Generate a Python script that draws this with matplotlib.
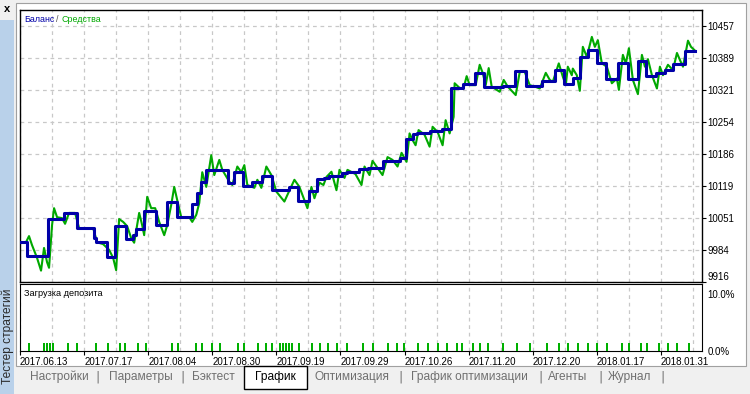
import matplotlib
matplotlib.use('Agg')
import matplotlib.pyplot as plt
from matplotlib.patches import Rectangle
import numpy as np

# window size in pixels
W, H = 750, 394

# x axis = deal number, y axis = account balance
dates = ['2017.06.13', '2017.07.17', '2017.08.04', '2017.08.30', '2017.09.19', '2017.09.29',
         '2017.10.26', '2017.11.20', '2017.12.20', '2018.01.17', '2018.01.31']
balance_ticks = ['9916', '9984', '10051', '10119', '10186', '10254', '10321', '10389', '10457']

balance_deal = [0, 3.5, 14, 22, 28.5, 37, 38, 43.5, 47.5, 53, 56.5, 58, 62, 68, 73.5, 78.5, 86,
                88.5, 90.5, 93, 104, 107, 111.5, 116, 121, 126, 134.5, 139, 144.5, 148.5, 152,
                154.5, 161, 163.5, 169.5, 173.5, 181, 189.5, 192.5, 196, 198, 204.5, 210.5, 215,
                221, 227, 231.5, 241, 247, 252.5, 260.5, 267, 271.5, 276, 279.5, 283.5, 288,
                292.5, 298.5, 303.5, 308.5, 312.5, 317.5, 322, 326, 332, 337]
balance = [10000, 9971, 10049, 10062, 10030, 10009, 10000, 9969, 10034, 10007, 10015, 10029,
           10067, 10037, 10086, 10053, 10081, 10104, 10128, 10153, 10125, 10149, 10119, 10128,
           10140, 10110, 10117, 10087, 10109, 10134, 10136, 10140, 10147, 10149, 10154, 10156,
           10172, 10177, 10219, 10228, 10230, 10235, 10239, 10325, 10334, 10357, 10329, 10330,
           10362, 10330, 10341, 10364, 10335, 10347, 10392, 10406, 10378, 10345, 10378, 10345,
           10383, 10351, 10358, 10364, 10376, 10404, 10404]

equity_deal = [0, 3, 4.5, 6, 8.5, 10.5, 12, 13.5, 14.5, 16, 17, 18.5, 21, 22.5, 24.5, 27.5, 29.5,
               36.5, 38.5, 41.5, 44.5, 46.5, 48, 49.5, 51.5, 53.5, 55.5, 57, 59.5, 61, 62, 63.5,
               65.5, 67.5, 69.5, 72, 73.5, 75.5, 77, 78.5, 80.5, 84.5, 86, 88, 89.5, 91, 93,
               95.5, 97, 99.5, 101, 104.5, 106, 108.5, 110.5, 112, 113.5, 117, 118.5, 120.5, 123,
               125.5, 128, 132, 133.5, 137, 139.5, 142, 143.5, 145.5, 147, 149.5, 151.5, 153,
               155.5, 158, 159.5, 162, 163.5, 167.5, 170.5, 172, 174.5, 176, 178.5, 181, 183.5,
               186, 188.5, 190.5, 193, 194.5, 196, 197.5, 199, 202, 204.5, 206, 208.5, 211,
               212.5, 214.5, 216.5, 217, 219.5, 221.5, 223, 224.5, 227.5, 229.5, 231, 232.5, 234,
               235.5, 239.5, 241.5, 243.5, 247.5, 249.5, 252, 254.5, 257, 259.5, 262.5, 264.5,
               266, 269, 271, 272.5, 273.5, 275.5, 276, 278, 279.5, 281, 283, 285.5, 287, 288.5,
               290.5, 293, 295.5, 298, 299, 301, 302.5, 304, 306, 308.5, 310.5, 312, 313.5,
               315.5, 318, 319.5, 321, 323.5, 326, 328, 329.5, 331, 333.5, 335, 337]
equity = [10000, 10000, 10013, 9994, 9967, 9940, 9988, 9958, 9946, 10036, 10072, 10053, 10051,
          10039, 10062, 10062, 10030, 10030, 10000, 9996, 9984, 9967, 9941, 10049, 10043, 10034,
          10009, 9999, 10062, 10036, 10015, 10096, 10072, 10072, 10043, 10015, 10036, 10079,
          10117, 10089, 10053, 10053, 10043, 10058, 10083, 10148, 10117, 10184, 10142, 10174,
          10153, 10128, 10121, 10160, 10148, 10163, 10121, 10115, 10132, 10115, 10160, 10142,
          10107, 10086, 10100, 10132, 10117, 10089, 10072, 10117, 10093, 10126, 10121, 10138,
          10149, 10110, 10153, 10136, 10153, 10144, 10121, 10160, 10142, 10172, 10157, 10142,
          10180, 10174, 10160, 10189, 10170, 10230, 10216, 10205, 10237, 10227, 10202, 10244,
          10233, 10205, 10258, 10230, 10265, 10336, 10326, 10326, 10351, 10332, 10332, 10375,
          10358, 10332, 10368, 10329, 10318, 10343, 10329, 10311, 10360, 10360, 10332, 10329,
          10325, 10358, 10343, 10339, 10378, 10350, 10332, 10371, 10353, 10367, 10353, 10320,
          10413, 10392, 10434, 10413, 10427, 10378, 10371, 10336, 10346, 10322, 10396, 10378,
          10410, 10343, 10313, 10396, 10371, 10387, 10353, 10325, 10371, 10353, 10375, 10364,
          10400, 10385, 10371, 10426, 10413, 10405]

# deals with deposit load (percent of deposit)
load_deal = [4.5, 12, 13.5, 15, 16.5, 24, 28.5, 38, 44, 50, 52.5, 59, 63, 76, 79, 88, 91, 96, 100,
             109, 112, 119, 123, 126, 130, 131.5, 133, 134.5, 136, 139.5, 146, 150, 154, 158.5,
             163.5, 171, 176, 183.5, 188, 191.5, 198.5, 203.5, 208.5, 213, 218, 220.5, 226,
             229.5, 233.5, 241, 248, 254.5, 263, 269, 273.5, 278.5, 283.5, 288, 293, 300.5, 304,
             310, 313, 319, 323.5, 328, 334]
deposit_load = 1.3

BLUE = '#0000a8'
GREEN = '#00a800'
GRID = '#c8c8c8'
FONT = 'Liberation Sans'
FS = 7.0


def box(l, t, r, b):
    return [l / W, 1 - b / H, (r - l) / W, (b - t) / H]


def fx(px):
    return px / W


def fy(py):
    return 1 - py / H


fig = plt.figure(figsize=(W / 100, H / 100), dpi=100, facecolor='#f0f0f0')

# window frame (behind the axes)
fig.patches.append(Rectangle((fx(16), fy(366)), fx(730), 363 / H, transform=fig.transFigure,
                             facecolor='white', edgecolor='#a0a0a0', lw=0.8, zorder=-5))
fig.patches.append(Rectangle((0, 0), fx(14), 1, transform=fig.transFigure,
                             facecolor='#b9d1ea', edgecolor='none', zorder=-5))
fig.patches.append(Rectangle((0, fy(20)), fx(14), 20 / H, transform=fig.transFigure,
                             facecolor='#f0f0f0', edgecolor='none', zorder=-5))
fig.text(fx(7), fy(9), 'x', fontsize=8, fontweight='bold', ha='center', va='center',
         family=FONT)
fig.text(fx(7.5), fy(336), 'Тестер стратегий', rotation=90, fontsize=8.6, ha='center',
         va='center', color='#2a2a2a', family=FONT)

# balance / equity chart
ax = fig.add_axes(box(20, 10, 702, 282))
ax.set_facecolor('white')
xmax = 340.5
ax.set_xlim(0, xmax)
ax.set_ylim(9916, 10457 + 16 * 541 / 256)
ax.step(balance_deal, balance, where='post', color=BLUE, lw=2.2, zorder=3)
ax.plot(equity_deal, equity, color=GREEN, lw=1.5, zorder=2)
ax.set_yticks(np.linspace(9916, 10457, 9))
ax.set_yticklabels(balance_ticks)
ax.set_xticks(np.arange(0, xmax, 16))
ax.set_xticklabels([])
ax.yaxis.tick_right()
ax.tick_params(axis='y', length=3, width=0.8, labelsize=FS, pad=1)
ax.tick_params(axis='x', length=0)
for lab in ax.get_yticklabels():
    lab.set_family(FONT)
# the lowest label sits on the panel edge, as in the tester window
ax.get_yticklabels()[0].set_va('bottom')
ax.grid(True, color=GRID, ls=(0, (3, 3)), lw=0.9)
for s in ax.spines.values():
    s.set_linewidth(1)
fig.text(fx(24), fy(19), 'Баланс', color=BLUE, fontsize=6.4, family=FONT, va='center')
fig.text(fx(56), fy(19), '/', color='#505050', fontsize=6.4, family=FONT, va='center')
fig.text(fx(62), fy(19), 'Средства', color=GREEN, fontsize=6.4, family=FONT, va='center')

# deposit load chart
ax2 = fig.add_axes(box(20, 284, 702, 351))
ax2.set_facecolor('white')
ax2.set_xlim(0, xmax)
ax2.set_ylim(0, 10 * 67 / 61)
ax2.bar(load_deal, deposit_load, width=1.0, color='#00b000', align='center', zorder=3)
ax2.set_yticks([0, 10])
ax2.set_yticklabels(['0.0%', '10.0%'])
ax2.yaxis.tick_right()
ax2.tick_params(axis='y', length=0, labelsize=FS, pad=4)
ax2.set_xticks(np.arange(0, xmax, 32))
ax2.set_xticks(np.arange(16, xmax, 32), minor=True)
ax2.set_xticklabels(dates)
ax2.tick_params(axis='x', which='major', length=3, width=0.8, labelsize=FS, pad=1)
ax2.tick_params(axis='x', which='minor', length=0)
for lab in ax2.get_xticklabels():
    lab.set_ha('left')
    lab.set_family(FONT)
for lab in ax2.get_yticklabels():
    lab.set_family(FONT)
ax2.get_yticklabels()[1].set_va('top')
ax2.grid(True, which='both', axis='x', color=GRID, ls=(0, (3, 3)), lw=0.9)
ax2.text(0.006, 0.86, 'Загрузка депозита', transform=ax2.transAxes, fontsize=6.6,
         family=FONT, va='center')

# tab strip
fig.patches.append(Rectangle((fx(244), fy(389)), fx(63), 23 / H, transform=fig.transFigure,
                             facecolor='white', edgecolor='black', lw=1, zorder=2))
tabs = ['Настройки', 'Параметры', 'Бэктест', 'График', 'Оптимизация', 'График оптимизации',
        'Агенты', 'Журнал']
tab_x = [59, 141, 213, 275, 352, 469, 568, 630]
for name, x in zip(tabs, tab_x):
    fig.text(fx(x), fy(377), name, ha='center', va='center', fontsize=8.6, family=FONT,
             color='black' if name == 'График' else '#707070', zorder=3)
for x in [98, 183, 400, 540, 600, 663]:
    fig.text(fx(x), fy(377), '|', ha='center', va='center', fontsize=9, color='#707070')

fig.savefig('out.png', dpi=100, facecolor=fig.get_facecolor())
